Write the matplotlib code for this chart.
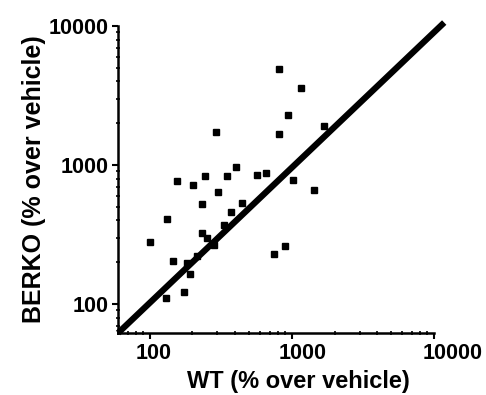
import matplotlib
matplotlib.use("Agg")
import matplotlib.pyplot as plt
import matplotlib.transforms as mtransforms
from matplotlib.ticker import LogLocator, NullFormatter, FixedFormatter, FixedLocator

# Data: WT vs BERKO (% over vehicle)
wt = [807, 1153, 945, 807, 1671, 292, 408, 351, 246, 156, 203, 566, 659,
      1026, 1422, 305, 234, 445, 376, 132, 336, 232, 253, 100, 745, 891,
      146, 214, 184, 192, 175, 130, 283]
berko = [4900, 3573, 2275, 1675, 1910, 1739, 964, 841, 828, 766, 721, 855, 884,
         783, 661, 636, 521, 530, 457, 407, 373, 325, 299, 281, 228, 260,
         203, 222, 196, 164, 122, 111, 265]

# identity line (runs a little past the top-right corner)
line_x = [60, 11800]
line_y = [62, 10600]

tick_vals = [100, 1000, 10000]
tick_labels = ["100", "1000", "10000"]

plt.rcParams['font.family'] = ['Liberation Sans', 'DejaVu Sans']
plt.rcParams['font.weight'] = 'bold'

fig = plt.figure(figsize=(4.86, 3.95), dpi=100)
ax = fig.add_axes([0.243, 0.157, 0.650, 0.777])

ax.plot(line_x, line_y, color='black', lw=4.5, solid_capstyle='butt', clip_on=False, zorder=2)
ax.plot(wt, berko, 's', color='black', markersize=3.8, zorder=3)

ax.set_xscale('log')
ax.set_yscale('log')
ax.set_xlim(60, 10000)
ax.set_ylim(62, 10000)

for a in (ax.xaxis, ax.yaxis):
    a.set_major_locator(FixedLocator(tick_vals))
    a.set_major_formatter(FixedFormatter(tick_labels))
    a.set_minor_locator(LogLocator(base=10, subs=range(2, 10)))
    a.set_minor_formatter(NullFormatter())

ax.spines['top'].set_visible(False)
ax.spines['right'].set_visible(False)
ax.spines['left'].set_linewidth(1.8)
ax.spines['bottom'].set_linewidth(1.8)
ax.tick_params(which='major', direction='out', length=4, width=1.5, labelsize=15.5, pad=3)
ax.tick_params(which='minor', direction='inout', length=3, width=1.2)

# x tick labels sit a bit right of their ticks in the original
for lab, dx in zip(ax.get_xticklabels(), [4, 11, 19]):
    lab.set_transform(lab.get_transform() + mtransforms.ScaledTranslation(dx / 100, 0, fig.dpi_scale_trans))

ax.set_xlabel("WT (% over vehicle)", fontsize=17, fontweight='bold')
ax.xaxis.set_label_coords(0.57, -0.122)
ax.set_ylabel("BERKO (% over vehicle)", fontsize=18, fontweight='bold', labelpad=2)

fig.savefig("out.png", dpi=100)
